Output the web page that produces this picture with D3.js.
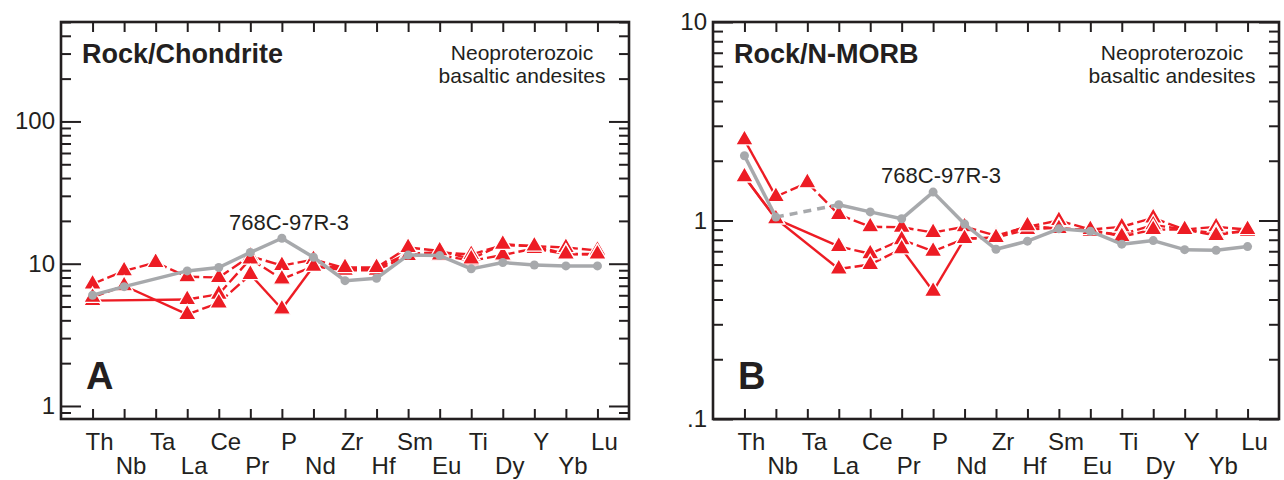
<!DOCTYPE html>
<html>
<head>
<meta charset="utf-8">
<script src="https://cdn.jsdelivr.net/npm/d3@7"></script>
<style>
  body { margin: 0; background: #fff; }
  svg text { font-family: "Liberation Sans", Arial, sans-serif; fill: #231f20; }
</style>
</head>
<body>
<script>
// element order along the x axis
var elements = ["Th","Nb","Ta","La","Ce","Pr","P","Nd","Zr","Hf","Sm","Eu","Ti","Dy","Y","Yb","Lu"];

// panel A : rock / chondrite
var grayA = [6.0, 6.9, null, 8.9, 9.4, 12.0, 15.1, 11.1, 7.6, 7.9, 11.5, 11.4, 9.2, 10.2, 9.8, 9.65, 9.65];
var redA1 = [7.2, 8.9, 10.2, 8.1, 8.0, 11.3, 9.7, 10.7, 9.3, 9.3, 11.8, 12.0, 11.6, 13.5, 13.3, 13.0, 12.4];
var redA2 = [5.5, null, null, 5.6, 6.1, 10.8, 7.8, 9.6, 9.0, 9.0, 11.4, 11.5, 10.5, 11.5, 12.8, 11.7, 11.6];
var redA3 = [5.8, 7.0, null, 4.4, 5.3, 8.4, 4.8, 9.6, 9.4, 9.4, 13.0, 12.3, 10.8, 13.7, 13.3, 11.7, 11.7];

// panel B : rock / N-MORB
var grayB = [2.12, 1.04, null, 1.20, 1.105, 1.02, 1.39, 0.96, 0.716, 0.787, 0.908, 0.883, 0.76, 0.792, 0.713, 0.708, 0.739];
var redB1 = [2.55, 1.32, 1.55, 1.07, 0.93, 0.925, 0.87, 0.93, 0.84, 0.93, 1.0, 0.9, 0.93, 1.03, 0.9, 0.93, 0.9];
var redB2 = [1.66, 1.02, null, 0.74, 0.68, 0.8, 0.70, 0.81, 0.82, 0.9, 0.92, 0.88, 0.85, 0.95, 0.9, 0.86, 0.88];
var redB3 = [1.66, 1.02, null, 0.57, 0.60, 0.72, 0.44, 0.81, 0.82, 0.94, 0.91, 0.90, 0.83, 0.90, 0.90, 0.84, 0.90];

var sampleName = "768C-97R-3";

// segments drawn solid (named by the element they start from), the rest dashed
var solidA = [[], ["Th"], ["Nb", "Pr", "P"]];
var solidB = [["Th"], ["Th", "Nb"], ["Th", "Nb", "Pr", "P"]];

var red = "#ed1c24", gray = "#a7a9ac", ink = "#231f20";

var svg = d3.select("body").append("svg")
    .attr("width", 1284)
    .attr("height", 480);

function panel(opt) {
  var x = d3.scalePoint().domain(elements).range([opt.left, opt.right]).padding(1);
  var y = d3.scaleLog().domain(opt.domain).range([opt.bottom, opt.top]);
  var g = svg.append("g");

  // minor + major ticks on left and right
  var ticks = [];
  var lo = Math.floor(Math.log10(opt.domain[0])), hi = Math.ceil(Math.log10(opt.domain[1]));
  for (var e = lo; e <= hi; e++) {
    for (var m = 1; m < 10; m++) {
      var v = m * Math.pow(10, e);
      if (v >= opt.domain[0] * 0.999 && v <= opt.domain[1] * 1.001) ticks.push(v);
    }
  }
  var isMajor = function(v) { return Math.abs(Math.log10(v) - Math.round(Math.log10(v))) < 1e-6; };

  g.append("g")
      .attr("transform", "translate(" + opt.left + ",0)")
      .call(d3.axisLeft(y).tickValues(ticks).tickSize(-10).tickFormat(""))
      .call(function(a) {
        a.select(".domain").remove();
        a.selectAll(".tick line").attr("x2", function(d) { return isMajor(d) ? 20 : 10; })
          .attr("stroke", ink).attr("stroke-width", 2);
      });
  g.append("g")
      .attr("transform", "translate(" + opt.right + ",0)")
      .call(d3.axisRight(y).tickValues(ticks).tickSize(-10).tickFormat(""))
      .call(function(a) {
        a.select(".domain").remove();
        a.selectAll(".tick line").attr("x2", function(d) { return isMajor(d) ? -20 : -10; })
          .attr("stroke", ink).attr("stroke-width", 2);
      });

  // category ticks top and bottom
  g.append("g")
      .attr("transform", "translate(0," + opt.top + ")")
      .call(d3.axisTop(x).tickSize(-10).tickFormat(""))
      .call(function(a) {
        a.select(".domain").remove();
        a.selectAll(".tick line").attr("stroke", ink).attr("stroke-width", 2);
      });
  g.append("g")
      .attr("transform", "translate(0," + opt.bottom + ")")
      .call(d3.axisBottom(x).tickSize(-10).tickFormat(""))
      .call(function(a) {
        a.select(".domain").remove();
        a.selectAll(".tick line").attr("stroke", ink).attr("stroke-width", 2);
      });

  // frame
  g.append("rect")
      .attr("x", opt.left).attr("y", opt.top)
      .attr("width", opt.right - opt.left).attr("height", opt.bottom - opt.top)
      .attr("fill", "none").attr("stroke", ink).attr("stroke-width", 2.6);

  // y labels
  g.selectAll(".ylab").data(opt.yLabels).enter().append("text")
      .attr("x", opt.left - 6)
      .attr("y", function(d) { return y(d.v) + 8; })
      .attr("text-anchor", "end")
      .attr("font-size", 24)
      .text(function(d) { return d.t; });

  // x labels, two staggered rows
  g.selectAll(".xlab").data(elements).enter().append("text")
      .attr("x", function(d) { return x(d) + 7; })
      .attr("y", function(d, i) { return i % 2 === 0 ? 450 : 474; })
      .attr("text-anchor", "middle")
      .attr("font-size", 24)
      .text(function(d) { return d; });

  // texts inside
  g.append("text").attr("x", opt.left + 21).attr("y", 63)
      .attr("font-size", 27).attr("font-weight", "bold").text(opt.title);
  g.append("text").attr("x", opt.left + 25).attr("y", 389)
      .attr("font-size", 38).attr("font-weight", "bold").text(opt.letter);
  var cx = opt.right - 107;
  g.append("text").attr("x", cx).attr("y", 60).attr("text-anchor", "middle")
      .attr("font-size", 21).text("Neoproterozoic");
  g.append("text").attr("x", cx).attr("y", 83).attr("text-anchor", "middle")
      .attr("font-size", 21).text("basaltic andesites");
  g.append("text").attr("x", opt.sampleAt[0]).attr("y", opt.sampleAt[1]).attr("text-anchor", "middle")
      .attr("font-size", 22).text(sampleName);

  var line = d3.line().x(function(d) { return x(d.k); }).y(function(d) { return y(d.v); });
  function pts(vals) {
    return elements.map(function(k, i) { return {k: k, i: i, v: vals[i]}; })
      .filter(function(d) { return d.v != null; });
  }

  // red samples
  opt.reds.forEach(function(vals, s) {
    var p = pts(vals);
    for (var i = 0; i < p.length - 1; i++) {
      var solid = opt.solid[s].indexOf(p[i].k) >= 0;
      g.append("path")
          .attr("d", line([p[i], p[i + 1]]))
          .attr("fill", "none").attr("stroke", red).attr("stroke-width", 2.4)
          .attr("stroke-dasharray", solid ? null : "12,4");
    }
  });
  opt.reds.forEach(function(vals) {
    g.selectAll(null).data(pts(vals)).enter().append("path")
        .attr("d", d3.symbol(d3.symbolTriangle, 135))
        .attr("transform", function(d) { return "translate(" + x(d.k) + "," + y(d.v) + ")"; })
        .attr("fill", red).attr("stroke", "#fff").attr("stroke-width", 1.3);
  });

  // grey sample
  var gp = pts(opt.grayVals);
  for (var j = 0; j < gp.length - 1; j++) {
    var gap = gp[j + 1].i - gp[j].i > 1;
    g.append("path")
        .attr("d", line([gp[j], gp[j + 1]]))
        .attr("fill", "none").attr("stroke", gray).attr("stroke-width", 3.5)
        .attr("stroke-dasharray", gap && opt.grayGapDash ? "8,6" : null);
  }
  g.selectAll(null).data(gp).enter().append("circle")
      .attr("cx", function(d) { return x(d.k); })
      .attr("cy", function(d) { return y(d.v); })
      .attr("r", 4.5).attr("fill", gray);
}

panel({
  left: 61, right: 629, top: 22, bottom: 419,
  domain: [0.81, 500],
  yLabels: [{v: 1, t: "1"}, {v: 10, t: "10"}, {v: 100, t: "100"}],
  title: "Rock/Chondrite", letter: "A",
  sampleAt: [289, 230],
  reds: [redA1, redA2, redA3], solid: solidA,
  grayVals: grayA, grayGapDash: false
});

panel({
  left: 713, right: 1279, top: 22, bottom: 419,
  domain: [0.1, 10],
  yLabels: [{v: 0.1, t: ".1"}, {v: 1, t: "1"}, {v: 10, t: "10"}],
  title: "Rock/N-MORB", letter: "B",
  sampleAt: [941, 183],
  reds: [redB1, redB2, redB3], solid: solidB,
  grayVals: grayB, grayGapDash: true
});
</script>
</body>
</html>
